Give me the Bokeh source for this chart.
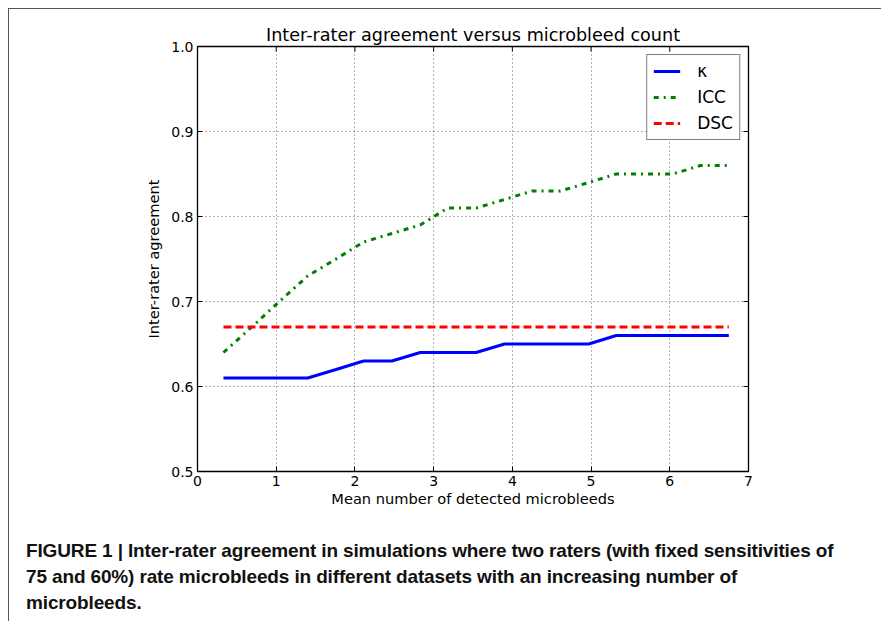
import math
from bokeh.plotting import figure
from bokeh.models import LinearAxis, Legend, LegendItem, Div, FixedTicker
from bokeh.layouts import column
from bokeh.embed import file_html
from bokeh.resources import INLINE

# ---------------- data ----------------
x_mean = [0.33, 0.69, 1.04, 1.40, 1.76, 2.11, 2.47, 2.83, 3.18, 3.54,
          3.90, 4.25, 4.61, 4.97, 5.32, 5.68, 6.04, 6.39, 6.75]
kappa = [0.61, 0.61, 0.61, 0.61, 0.62, 0.63, 0.63, 0.64, 0.64, 0.64,
         0.65, 0.65, 0.65, 0.65, 0.66, 0.66, 0.66, 0.66, 0.66]
icc = [0.64, 0.67, 0.70, 0.73, 0.75, 0.77, 0.78, 0.79, 0.81, 0.81,
       0.82, 0.83, 0.83, 0.84, 0.85, 0.85, 0.85, 0.86, 0.86]
dsc = [0.67, 0.67, 0.67, 0.67, 0.67, 0.67, 0.67, 0.67, 0.67, 0.67,
       0.67, 0.67, 0.67, 0.67, 0.67, 0.67, 0.67, 0.67, 0.67]
series_names = ["κ", "ICC", "DSC"]
x_ticks = [0, 1, 2, 3, 4, 5, 6, 7]
x_tick_labels = ["0", "1", "2", "3", "4", "5", "6", "7"]
y_ticks = [0.5, 0.6, 0.7, 0.8, 0.9, 1.0]
y_tick_labels = ["0.5", "0.6", "0.7", "0.8", "0.9", "1.0"]
x_lim = (0, 7)
y_lim = (0.5, 1.0)
title_text = "Inter-rater agreement versus microbleed count"
x_label = "Mean number of detected microbleeds"
y_label = "Inter-rater agreement"
caption = ("FIGURE 1 | Inter-rater agreement in simulations where two raters (with fixed sensitivities of<br>"
           "75 and 60%) rate microbleeds in different datasets with an increasing number of<br>"
           "microbleeds.")

FONT = "DejaVu Sans"

p = figure(frame_width=551, frame_height=425, x_range=x_lim, y_range=y_lim,
           output_backend="svg", toolbar_location=None, title=title_text,
           min_border_left=188, min_border_right=126, min_border_top=37, min_border_bottom=50,
           x_axis_location=None, y_axis_location=None)

p.title.text_font = FONT
p.title.text_font_size = "17.6px"
p.title.text_font_style = "normal"
p.title.align = "center"
p.title.standoff = 4
p.title.text_color = "black"

xb = LinearAxis(axis_label=x_label, ticker=FixedTicker(ticks=x_ticks))
p.add_layout(xb, "below")
yl = LinearAxis(axis_label=y_label, ticker=FixedTicker(ticks=y_ticks))
p.add_layout(yl, "left")
xb.major_label_overrides = {t: s for t, s in zip(x_ticks, x_tick_labels)}
yl.major_label_overrides = {t: s for t, s in zip(y_ticks, y_tick_labels)}
for ax in (xb, yl):
    ax.axis_line_color = None
    ax.major_tick_in = 5
    ax.major_tick_out = 0
    ax.minor_tick_in = 0
    ax.minor_tick_out = 0
    ax.major_tick_line_color = "black"
    ax.major_label_text_font = FONT
    ax.major_label_text_color = "black"
    ax.major_label_text_font_size = "14px"
    ax.major_label_standoff = 4
    ax.axis_label_text_font = FONT
    ax.axis_label_text_font_size = "14.6px"
    ax.axis_label_text_font_style = "normal"
    ax.axis_label_text_color = "black"
xb.axis_label_standoff = 1
yl.axis_label_standoff = 6

# inward tick marks on the top and right spines (matplotlib style)
p.ray(x=x_ticks, y=[y_lim[1]] * len(x_ticks), length=5, length_units="screen",
      angle=-math.pi / 2, line_color="black", line_width=1)
p.ray(x=[x_lim[1]] * len(y_ticks), y=y_ticks, length=5, length_units="screen",
      angle=math.pi, line_color="black", line_width=1)

p.xgrid.ticker = FixedTicker(ticks=x_ticks)
p.ygrid.ticker = FixedTicker(ticks=y_ticks)
for g in (p.xgrid, p.ygrid):
    g.grid_line_color = "black"
    g.grid_line_alpha = 0.6
    g.grid_line_dash = "1 3"
    g.grid_line_width = 1

p.outline_line_color = "black"
p.outline_line_width = 1.3
p.outline_line_alpha = 1
p.background_fill_color = "white"
p.border_fill_color = "white"

r_k = p.line(x_mean, kappa, line_color="#0000ff", line_width=3)
r_i = p.line(x_mean, icc, line_color="#008000", line_width=3, line_dash="5 5 2 5")
r_d = p.line(x_mean, dsc, line_color="#ff0000", line_width=3, line_dash="8 4")

legend = Legend(items=[LegendItem(label=series_names[0], renderers=[r_k]),
                       LegendItem(label=series_names[1], renderers=[r_i]),
                       LegendItem(label=series_names[2], renderers=[r_d])],
                location="top_right")
legend.label_text_font = FONT
legend.label_text_font_size = "17px"
legend.label_text_color = "black"
legend.glyph_width = 27
legend.glyph_height = 20
legend.label_height = 20
legend.label_standoff = 17
legend.spacing = 6
legend.padding = 6
legend.margin = 8
legend.border_line_color = "black"
legend.border_line_width = 1.3
legend.background_fill_alpha = 1
p.add_layout(legend)

cap = Div(text=caption, width=850,
          styles={"font-family": "'Liberation Sans Narrow', 'Liberation Sans', sans-serif",
                  "font-weight": "bold", "font-size": "19px", "line-height": "26px",
                  "letter-spacing": "-0.14px",
                  "color": "#111", "margin-left": "17px", "margin-top": "17px",
                  "white-space": "nowrap"})

layout = column(p, cap, styles={"border-top": "1px solid #555", "border-left": "1px solid #555",
                                "margin-left": "8px", "margin-top": "8px"})

open("out.html", "w").write(file_html(layout, INLINE))
